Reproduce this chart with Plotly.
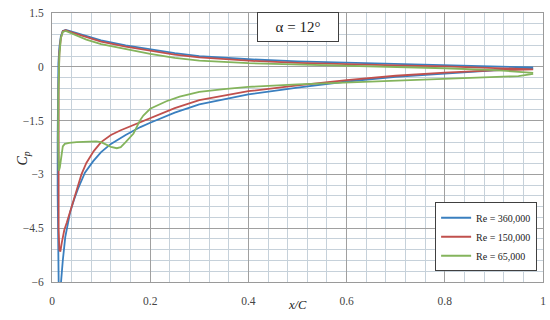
import plotly.graph_objects as go

# ---- data ----
series_names = ["Re = 360,000", "Re = 150,000", "Re = 65,000"]
series_colors = ["#3a7fbf", "#c0504d", "#84b45c"]

# Re = 360,000
x_low_360 = [0.012, 0.013, 0.015, 0.018, 0.022, 0.028, 0.035, 0.05, 0.07, 0.1, 0.15, 0.2, 0.25, 0.3, 0.4, 0.5, 0.6, 0.7, 0.8, 0.9, 0.98]
cp_low_360 = [-0.8, 0.1, 0.55, 0.85, 1.0, 1.03, 1.0, 0.94, 0.85, 0.74, 0.6, 0.48, 0.38, 0.3, 0.21, 0.15, 0.11, 0.07, 0.04, 0.01, -0.02]
x_up_360 = [0.0115, 0.0115, 0.012, 0.0125, 0.014, 0.016, 0.018, 0.022, 0.027, 0.033, 0.037, 0.045, 0.053, 0.067, 0.084, 0.1, 0.12, 0.15, 0.18, 0.2, 0.25, 0.3, 0.35, 0.4, 0.5, 0.6, 0.7, 0.8, 0.9, 0.98]
cp_up_360 = [-2.0, -3.5, -5.0, -6.0, -6.5, -6.4, -6.0, -5.4, -4.75, -4.3, -4.05, -3.7, -3.4, -2.95, -2.63, -2.38, -2.15, -1.9, -1.68, -1.56, -1.28, -1.05, -0.9, -0.77, -0.58, -0.41, -0.28, -0.18, -0.1, -0.04]

# Re = 150,000
x_low_150 = [0.0135, 0.015, 0.018, 0.022, 0.028, 0.035, 0.05, 0.07, 0.1, 0.15, 0.2, 0.25, 0.3, 0.4, 0.5, 0.6, 0.7, 0.8, 0.9, 0.98]
cp_low_150 = [-0.5, 0.4, 0.8, 0.99, 1.02, 0.98, 0.92, 0.82, 0.7, 0.56, 0.44, 0.34, 0.26, 0.17, 0.11, 0.07, 0.04, 0.01, -0.03, -0.07]
x_up_150 = [0.013, 0.013, 0.0135, 0.015, 0.017, 0.02, 0.025, 0.03, 0.035, 0.04, 0.05, 0.06, 0.07, 0.085, 0.1, 0.12, 0.14, 0.166, 0.2, 0.25, 0.3, 0.35, 0.4, 0.5, 0.6, 0.7, 0.8, 0.9, 0.98]
cp_up_150 = [-2.0, -3.5, -4.5, -5.1, -5.15, -4.9, -4.55, -4.35, -4.15, -3.9, -3.45, -3.0, -2.68, -2.35, -2.1, -1.9, -1.77, -1.62, -1.42, -1.15, -0.93, -0.8, -0.68, -0.52, -0.37, -0.25, -0.16, -0.1, -0.07]

# Re = 65,000
x_low_65 = [0.013, 0.015, 0.018, 0.022, 0.028, 0.035, 0.05, 0.07, 0.1, 0.15, 0.2, 0.25, 0.3, 0.4, 0.5, 0.6, 0.7, 0.8, 0.9, 0.98]
cp_low_65 = [-0.8, 0.3, 0.8, 0.97, 1.0, 0.97, 0.88, 0.76, 0.63, 0.5, 0.36, 0.25, 0.17, 0.1, 0.06, 0.03, 0.0, -0.04, -0.09, -0.17]
x_up_65 = [0.0125, 0.013, 0.014, 0.016, 0.0197, 0.022, 0.026, 0.035, 0.05, 0.07, 0.09, 0.1, 0.11, 0.12, 0.132, 0.14, 0.15, 0.166, 0.179, 0.186, 0.2, 0.233, 0.26, 0.3, 0.35, 0.4, 0.5, 0.6, 0.7, 0.8, 0.9, 0.95, 0.98]
cp_up_65 = [-2.0, -2.7, -2.9, -2.8, -2.37, -2.22, -2.15, -2.12, -2.1, -2.09, -2.08, -2.1, -2.16, -2.23, -2.27, -2.24, -2.1, -1.86, -1.5, -1.36, -1.17, -0.96, -0.83, -0.7, -0.62, -0.56, -0.49, -0.44, -0.39, -0.34, -0.3, -0.26, -0.2]

x_ticks = [0, 0.2, 0.4, 0.6, 0.8, 1]
y_ticks = [1.5, 0, -1.5, -3, -4.5, -6]
title_text = "α = 12°"
x_title = "<i>x/C</i>"
y_title = "<i>C<sub>p</sub></i>"

series = [
    (x_low_360, cp_low_360, x_up_360, cp_up_360),
    (x_low_150, cp_low_150, x_up_150, cp_up_150),
    (x_low_65, cp_low_65, x_up_65, cp_up_65),
]

fig = go.Figure()
for name, color, (xl, cl, xu, cu) in zip(series_names, series_colors, series):
    xs = list(reversed(xl)) + list(xu)
    ys = list(reversed(cl)) + list(cu)
    fig.add_trace(go.Scatter(x=xs, y=ys, mode="lines", name=name,
                             line=dict(color=color, width=1.8)))

font_family = "Liberation Serif, Times New Roman, serif"
fig.update_layout(
    width=550, height=320,
    margin=dict(l=52, r=7, t=13, b=38, autoexpand=False),
    paper_bgcolor="white", plot_bgcolor="white",
    font=dict(family=font_family, size=11.5, color="#444444"),
    showlegend=True,
    legend=dict(x=0.988, y=0.04, xanchor="right", yanchor="bottom",
                bgcolor="white", bordercolor="#404040", borderwidth=1,
                font=dict(family=font_family, size=10, color="#222222"),
                itemwidth=30, tracegroupgap=0),
    xaxis=dict(range=[0, 1], tickvals=x_ticks, ticktext=[str(v) for v in x_ticks],
               automargin=False, ticklabeloverflow="allow", ticklabelstandoff=8,
               showgrid=True, gridcolor="#a0a0a0", gridwidth=1,
               minor=dict(dtick=0.04, showgrid=True, gridcolor="#c6d1da", gridwidth=1),
               zeroline=False, showline=True, linecolor="#9a9a9a", mirror=True,
               ticks=""),
    yaxis=dict(range=[-6, 1.5], tickvals=y_ticks,
               automargin=False, ticklabeloverflow="allow", ticklabelstandoff=5,
               showgrid=True, gridcolor="#a0a0a0", gridwidth=1,
               minor=dict(dtick=0.3, tick0=0, showgrid=True, gridcolor="#c6d1da", gridwidth=1),
               zeroline=False, showline=True, linecolor="#9a9a9a", mirror=True,
               ticks=""),
)
fig.add_annotation(x=0.5, y=1.12, xref="x", yref="y", text=title_text, showarrow=False,
                   font=dict(family=font_family, size=15, color="#222222"),
                   bordercolor="#404040", borderwidth=1, borderpad=5, bgcolor="white",
                   width=70, height=18)
fig.add_annotation(x=0.5, y=-0.12, xref="paper", yref="paper", text=x_title, showarrow=False,
                   font=dict(family=font_family, size=12.5, color="#222222"))
fig.add_annotation(x=-0.08, y=0.46, xref="paper", yref="paper", text=y_title, showarrow=False,
                   textangle=-90, font=dict(family=font_family, size=14, color="#222222"))
fig.write_html("out.html", config={"displayModeBar": False},
               post_script="document.body.style.margin='0';")
